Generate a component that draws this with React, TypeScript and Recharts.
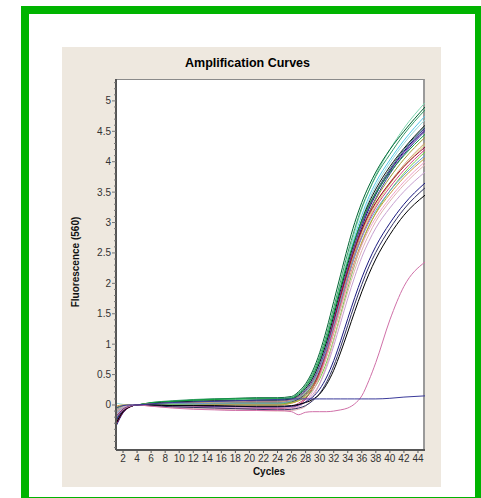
import React from 'react';
import { LineChart, Line, XAxis, YAxis } from 'recharts';

// PCR cycles the readings were taken at
const CYCLES = [1, 2, 3, 4, 6, 9, 12, 15, 18, 21, 24, 26, 27, 28, 29, 30, 31, 32, 33, 34, 35, 36, 37, 38, 40, 42, 45];

// fluorescence (560) per sample, one value per cycle above
const c01 = [-0.05, -0.01, 0, 0, 0.03, 0.05, 0.07, 0.08, 0.09, 0.1, 0.1, 0.12, 0.19, 0.3, 0.48, 0.75, 1.1, 1.52, 1.98, 2.42, 2.85, 3.22, 3.52, 3.78, 4.2, 4.55, 4.97];
const c02 = [-0.1, -0.03, -0.01, 0, 0.03, 0.06, 0.08, 0.1, 0.11, 0.12, 0.12, 0.14, 0.22, 0.35, 0.56, 0.86, 1.25, 1.7, 2.15, 2.6, 3.0, 3.33, 3.6, 3.83, 4.2, 4.5, 4.9];
const c03 = [-0.22, -0.07, -0.01, 0, 0.04, 0.07, 0.09, 0.1, 0.1, 0.11, 0.11, 0.12, 0.2, 0.32, 0.52, 0.8, 1.17, 1.6, 2.05, 2.5, 2.9, 3.25, 3.52, 3.76, 4.12, 4.45, 4.85];
const c04 = [-0.15, -0.05, -0.01, 0, 0.02, 0.04, 0.05, 0.06, 0.07, 0.07, 0.08, 0.1, 0.16, 0.27, 0.44, 0.7, 1.05, 1.47, 1.92, 2.36, 2.77, 3.12, 3.42, 3.66, 4.03, 4.35, 4.75];
const c05 = [0.03, 0.01, 0, 0, 0.02, 0.04, 0.05, 0.06, 0.06, 0.07, 0.07, 0.09, 0.15, 0.25, 0.41, 0.66, 1.0, 1.42, 1.87, 2.3, 2.7, 3.06, 3.36, 3.6, 3.98, 4.3, 4.69];
const c06 = [-0.3, -0.1, -0.02, 0, 0.03, 0.05, 0.06, 0.07, 0.07, 0.08, 0.08, 0.1, 0.16, 0.27, 0.44, 0.7, 1.04, 1.46, 1.9, 2.32, 2.7, 3.04, 3.32, 3.55, 3.92, 4.22, 4.6];
const c07 = [-0.12, -0.04, -0.01, 0, 0.01, 0.02, 0.03, 0.03, 0.04, 0.04, 0.04, 0.08, 0.13, 0.22, 0.37, 0.61, 0.94, 1.36, 1.8, 2.23, 2.63, 2.98, 3.27, 3.5, 3.88, 4.2, 4.58];
const c08 = [-0.35, -0.13, -0.03, 0, 0.01, 0.01, 0.02, 0.02, 0.02, 0.02, 0.02, 0.05, 0.1, 0.18, 0.32, 0.54, 0.87, 1.28, 1.72, 2.16, 2.56, 2.92, 3.22, 3.46, 3.85, 4.17, 4.55];
const c09 = [-0.08, -0.03, 0, 0, 0.02, 0.03, 0.04, 0.05, 0.05, 0.06, 0.06, 0.09, 0.14, 0.24, 0.4, 0.64, 0.98, 1.4, 1.84, 2.26, 2.64, 2.98, 3.25, 3.48, 3.84, 4.15, 4.52];
const c10 = [-0.25, -0.08, -0.02, 0, 0, 0.01, 0.01, 0.01, 0.01, 0.01, 0.01, 0.04, 0.09, 0.16, 0.29, 0.5, 0.82, 1.22, 1.66, 2.1, 2.5, 2.86, 3.16, 3.4, 3.8, 4.12, 4.5];
const c11 = [-0.18, -0.06, -0.01, 0, 0.04, 0.06, 0.08, 0.09, 0.1, 0.1, 0.1, 0.11, 0.18, 0.3, 0.48, 0.75, 1.1, 1.52, 1.95, 2.36, 2.72, 3.03, 3.28, 3.48, 3.82, 4.1, 4.45];
const c12 = [-0.04, -0.01, 0, 0, 0.01, 0.02, 0.02, 0.03, 0.03, 0.03, 0.03, 0.06, 0.11, 0.19, 0.33, 0.56, 0.9, 1.3, 1.74, 2.16, 2.54, 2.88, 3.15, 3.38, 3.74, 4.04, 4.4];
const c13 = [-0.28, -0.09, -0.02, 0, 0.02, 0.03, 0.04, 0.04, 0.05, 0.05, 0.05, 0.08, 0.13, 0.22, 0.37, 0.6, 0.92, 1.32, 1.75, 2.15, 2.52, 2.84, 3.1, 3.32, 3.66, 3.95, 4.31];
const c14 = [-0.1, -0.03, -0.01, 0, 0, 0, 0, 0, 0, 0, 0, 0.03, 0.08, 0.16, 0.3, 0.51, 0.84, 1.24, 1.67, 2.08, 2.46, 2.79, 3.06, 3.28, 3.63, 3.92, 4.28];
const c15 = [-0.32, -0.12, -0.03, 0, -0.01, -0.02, -0.03, -0.04, -0.05, -0.05, -0.06, -0.04, 0.0, 0.1, 0.28, 0.55, 0.92, 1.36, 1.8, 2.2, 2.57, 2.88, 3.13, 3.33, 3.65, 3.92, 4.24];
const c16 = [-0.2, -0.07, -0.02, 0, -0.01, -0.02, -0.02, -0.03, -0.03, -0.04, -0.04, -0.02, 0.03, 0.12, 0.28, 0.52, 0.85, 1.26, 1.68, 2.08, 2.45, 2.77, 3.03, 3.25, 3.58, 3.86, 4.2];
const c17 = [-0.06, -0.02, 0, 0, 0.01, 0.01, 0.02, 0.02, 0.02, 0.02, 0.02, 0.04, 0.07, 0.13, 0.24, 0.43, 0.71, 1.08, 1.5, 1.92, 2.31, 2.65, 2.93, 3.16, 3.52, 3.81, 4.16];
const c18 = [-0.14, -0.05, -0.01, 0, 0.01, 0.02, 0.02, 0.03, 0.03, 0.03, 0.03, 0.07, 0.12, 0.21, 0.36, 0.6, 0.92, 1.31, 1.72, 2.1, 2.45, 2.75, 3.0, 3.2, 3.52, 3.78, 4.1];
const c19 = [-0.02, 0, 0, 0, 0, -0.01, -0.01, 0, 0, 0, 0, 0.03, 0.07, 0.15, 0.28, 0.49, 0.8, 1.18, 1.6, 2.0, 2.37, 2.68, 2.94, 3.15, 3.47, 3.74, 4.06];
const c20 = [-0.16, -0.06, -0.01, 0, -0.01, -0.03, -0.04, -0.05, -0.06, -0.07, -0.07, -0.06, -0.03, 0.06, 0.22, 0.47, 0.8, 1.2, 1.6, 1.98, 2.33, 2.63, 2.88, 3.08, 3.4, 3.67, 4.0];
const c21 = [-0.12, -0.04, -0.01, 0, -0.02, -0.04, -0.06, -0.07, -0.08, -0.09, -0.1, -0.09, -0.07, -0.02, 0.12, 0.35, 0.66, 1.05, 1.46, 1.86, 2.22, 2.54, 2.8, 3.02, 3.35, 3.62, 3.95];
const c22 = [-0.09, -0.03, 0, 0, -0.01, -0.02, -0.03, -0.04, -0.04, -0.05, -0.05, -0.04, -0.02, 0.05, 0.17, 0.35, 0.62, 0.97, 1.36, 1.75, 2.11, 2.43, 2.69, 2.91, 3.24, 3.51, 3.83];
const c23 = [-0.26, -0.09, -0.02, 0, 0, -0.01, -0.01, -0.02, -0.02, -0.03, -0.03, -0.02, 0.0, 0.05, 0.13, 0.26, 0.46, 0.73, 1.06, 1.42, 1.77, 2.09, 2.37, 2.61, 2.99, 3.3, 3.65];
const c24 = [-0.2, -0.07, -0.02, 0, -0.01, -0.03, -0.04, -0.05, -0.06, -0.07, -0.08, -0.07, -0.05, -0.01, 0.07, 0.19, 0.38, 0.64, 0.96, 1.31, 1.66, 1.98, 2.27, 2.51, 2.9, 3.22, 3.57];
const c25 = [-0.3, -0.11, -0.03, 0, 0, -0.01, -0.01, -0.01, -0.02, -0.02, -0.02, -0.01, 0.01, 0.04, 0.09, 0.18, 0.34, 0.57, 0.87, 1.2, 1.54, 1.86, 2.15, 2.4, 2.8, 3.12, 3.45];
const c26 = [-0.2, -0.08, -0.02, 0, -0.02, -0.05, -0.07, -0.08, -0.09, -0.09, -0.09, -0.11, -0.16, -0.12, -0.11, -0.11, -0.11, -0.1, -0.08, -0.05, 0.02, 0.15, 0.4, 0.7, 1.4, 1.95, 2.35];
const c27 = [-0.05, -0.01, 0, 0, 0.02, 0.04, 0.05, 0.06, 0.07, 0.08, 0.09, 0.1, 0.1, 0.1, 0.1, 0.1, 0.1, 0.1, 0.1, 0.1, 0.1, 0.1, 0.1, 0.1, 0.11, 0.13, 0.15];

const CURVES = [c01, c02, c03, c04, c05, c06, c07, c08, c09, c10, c11, c12, c13, c14, c15, c16, c17, c18, c19, c20, c21, c22, c23, c24, c25, c26, c27];

const COLORS = [
  '#7fd6b0', '#006633', '#339966', '#55c8e8', '#9adada', '#111111', '#2f6f6f', '#000070', '#663399',
  '#33339a', '#11a040', '#9a9a30', '#d0a070', '#d8d070', '#a00030', '#d04080', '#70d040', '#6a9ad0',
  '#c89a40', '#f0a0c8', '#e0b0b0', '#c8a0d0', '#1a1a80', '#303060', '#000000', '#d070a8', '#3a3a9a',
];

const X_TICKS = [2, 4, 6, 8, 10, 12, 14, 16, 18, 20, 22, 24, 26, 28, 30, 32, 34, 36, 38, 40, 42, 44];
const Y_LABELS = [0, 0.5, 1, 1.5, 2, 2.5, 3, 3.5, 4, 4.5, 5];

// minor ticks every 0.1 from -0.7 to 5.3
const yTicks: number[] = [];
for (let i = -7; i <= 53; i++) yTicks.push(i / 10);

const rows = CYCLES.map((c, i) => {
  const row: any = { cycle: c };
  CURVES.forEach((vals, k) => {
    row['s' + k] = vals[i];
  });
  return row;
});

const FONT = '"Liberation Sans", Arial, sans-serif';

const YTick = (props: any) => {
  const { x, y, payload } = props;
  const v = payload.value;
  const major = Y_LABELS.some((l) => Math.abs(l - v) < 1e-6);
  return (
    <g>
      <line x1={major ? x : x + 2} x2={x + 4} y1={y} y2={y} stroke="#777" />
      {major && (
        <text x={x - 1} y={y} dy="0.35em" textAnchor="end" fontSize={10} fill="#333" fontFamily={FONT}>
          {v}
        </text>
      )}
    </g>
  );
};

export default function App() {
  return (
    <div style={{ position: 'absolute', left: 0, top: 0, width: 481, height: 498, overflow: 'hidden', background: '#fff' }}>
      <div
        style={{
          position: 'absolute', left: 21, top: 6, width: 462, height: 499,
          border: '8px solid #00b400', boxSizing: 'border-box',
        }}
      />
      <div style={{ position: 'absolute', left: 62, top: 47, width: 379, height: 440, background: '#eee8df' }}>
        <div
          style={{
            position: 'absolute', left: 54, top: 32, width: 309, height: 371, background: '#fff',
            borderTop: '1px solid #8a8a8a', borderRight: '2px solid #9a9a9a', boxSizing: 'border-box',
          }}
        />
        <div
          style={{
            position: 'absolute', left: 0, top: 9, width: 371, textAlign: 'center',
            font: `bold 12.5px ${FONT}`, lineHeight: '15px', color: '#000',
          }}
        >
          Amplification Curves
        </div>
        <div
          style={{
            position: 'absolute', left: -46, top: 209, width: 120, height: 12, lineHeight: '12px',
            textAlign: 'center', font: `bold 10px ${FONT}`, transform: 'rotate(-90deg)', color: '#111',
          }}
        >
          Fluorescence (560)
        </div>
        <div
          style={{
            position: 'absolute', left: 167, top: 419, width: 80, lineHeight: '12px',
            textAlign: 'center', font: `bold 10px ${FONT}`, color: '#111',
          }}
        >
          Cycles
        </div>
        <LineChart
          width={379}
          height={440}
          data={rows}
          margin={{ top: 32, right: 16, bottom: 0, left: 0 }}
          style={{ position: 'absolute', left: 0, top: 0 }}
        >
          <XAxis
            dataKey="cycle"
            type="number"
            domain={[1, 45]}
            ticks={X_TICKS}
            interval={0}
            height={37}
            tickSize={3}
            tickMargin={2}
            axisLine={{ stroke: '#555', strokeWidth: 2 }}
            tickLine={{ stroke: '#555' }}
            tick={{ fontSize: 10, fill: '#333', fontFamily: FONT }}
            allowDataOverflow
          />
          <YAxis
            type="number"
            domain={[-0.74, 5.36]}
            ticks={yTicks}
            interval={0}
            width={54}
            tickSize={4}
            tickMargin={0}
            tickLine={false}
            axisLine={{ stroke: '#555', strokeWidth: 2 }}
            tick={<YTick />}
            allowDataOverflow
          />
          {CURVES.map((_, k) => (
            <Line
              key={k}
              type="monotone"
              dataKey={'s' + k}
              stroke={COLORS[k]}
              strokeWidth={1}
              dot={false}
              isAnimationActive={false}
            />
          ))}
        </LineChart>
      </div>
    </div>
  );
}
